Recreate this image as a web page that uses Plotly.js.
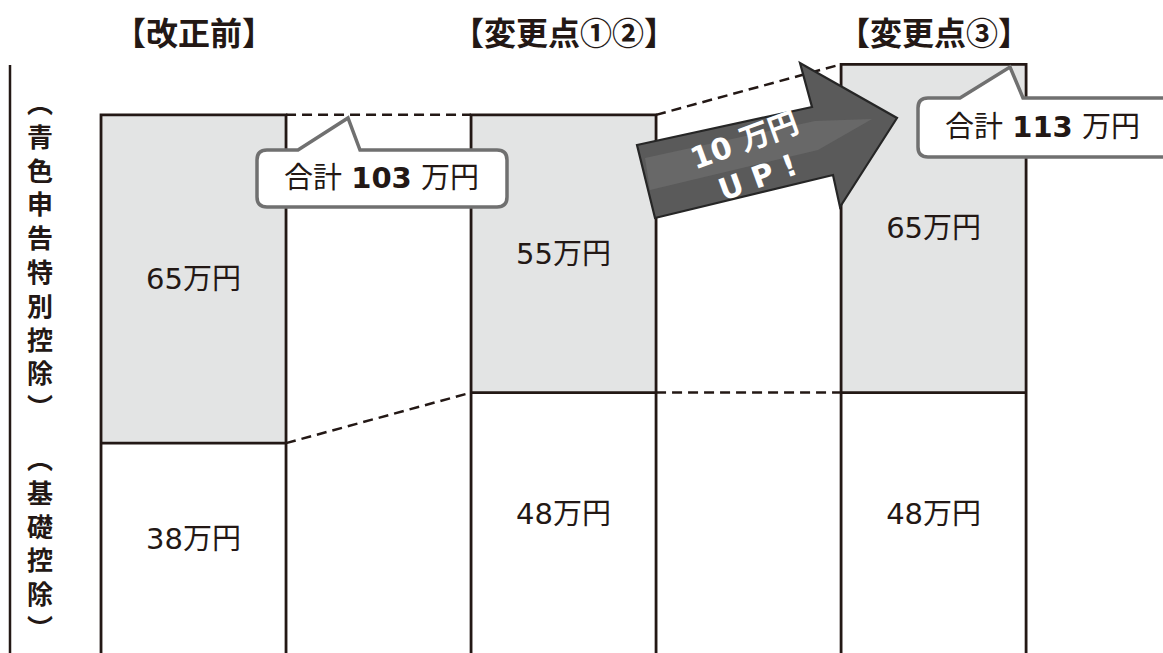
<!DOCTYPE html>
<html>
<head>
<meta charset="utf-8">
<script src="https://cdn.plot.ly/plotly-3.0.1.min.js"></script>
<style>
html,body{margin:0;padding:0;background:#fff;overflow:hidden;}
#chart{width:1163px;height:653px;}
</style>
</head>
<body>
<div id="chart"></div>
<script>
// ---- data ----
const categories = ['【改正前】', '【変更点①②】', '【変更点③】'];
const basicDeduction = [38, 48, 48];        // 基礎控除（万円）
const blueReturnDeduction = [65, 55, 65];   // 青色申告特別控除（万円）
const unit = '万円';
const seriesNames = ['（基礎控除）', '（青色申告特別控除）'];

// ---- derived ----
const totals = basicDeduction.map((v, i) => v + blueReturnDeduction[i]);
const xs = categories.map((_, i) => i);
const increase = totals[2] - totals[1];

// ---- layout helpers ----
const W = 1163, H = 653;
const px = x => x / W;
const py = y => 1 - y / H;
const INK = '#231815';
const BARGAP = 0.5;
const HALF = (1 - BARGAP) / 2;
const Y_RANGE = [-3.56, 125.74];
const Y_LOW = Y_RANGE[0] - 2;
const LABEL_FONT = 'DejaVu Sans, Noto Sans CJK JP, sans-serif';
const CJK_FONT = 'Noto Sans CJK JP, sans-serif';

const traces = [];
traces.push({
  type: 'bar', x: xs, y: basicDeduction, name: seriesNames[0],
  marker: {color: '#ffffff', line: {width: 0}},
  text: basicDeduction.map(v => v + unit), textposition: 'inside', insidetextanchor: 'middle',
  textangle: 0, constraintext: 'none',
  textfont: {family: LABEL_FONT, size: 29, color: INK}, hoverinfo: 'skip'
});
traces.push({
  type: 'bar', x: xs, y: blueReturnDeduction, name: seriesNames[1],
  marker: {color: '#e3e4e4', line: {width: 0}},
  text: blueReturnDeduction.map(v => v + unit), textposition: 'inside', insidetextanchor: 'middle',
  textangle: 0, constraintext: 'none',
  textfont: {family: LABEL_FONT, size: 29, color: INK}, hoverinfo: 'skip'
});

// outlines of each column (solid)
xs.forEach((x, i) => {
  traces.push({
    type: 'scatter', mode: 'lines', hoverinfo: 'skip',
    x: [x - HALF, x - HALF, x + HALF, x + HALF, null, x - HALF, x + HALF],
    y: [Y_LOW, totals[i], totals[i], Y_LOW, null, basicDeduction[i], basicDeduction[i]],
    line: {color: INK, width: 2.8}
  });
});
// dashed connectors between columns
for (let i = 0; i < xs.length - 1; i++) {
  traces.push({
    type: 'scatter', mode: 'lines', hoverinfo: 'skip',
    x: [xs[i] + HALF, xs[i + 1] - HALF, null, xs[i] + HALF, xs[i + 1] - HALF],
    y: [totals[i], totals[i + 1], null, basicDeduction[i], basicDeduction[i + 1]],
    line: {color: INK, width: 2.5, dash: '10px,6px'}
  });
}

function bubble(x0, y0, x1, y1, r, t0, tipX, tipY, t1) {
  const P = (x, y) => px(x) + ',' + py(y);
  return 'M' + P(x0 + r, y0) + ' L' + P(t0, y0) + ' L' + P(tipX, tipY) + ' L' + P(t1, y0) +
    ' L' + P(x1 - r, y0) + ' Q' + P(x1, y0) + ' ' + P(x1, y0 + r) +
    ' L' + P(x1, y1 - r) + ' Q' + P(x1, y1) + ' ' + P(x1 - r, y1) +
    ' L' + P(x0 + r, y1) + ' Q' + P(x0, y1) + ' ' + P(x0, y1 - r) +
    ' L' + P(x0, y0 + r) + ' Q' + P(x0, y0) + ' ' + P(x0 + r, y0) + ' Z';
}
function poly(pts) {
  return 'M' + pts.map(p => px(p[0]) + ',' + py(p[1])).join(' L') + ' Z';
}

const shapes = [
  {type: 'line', xref: 'paper', yref: 'paper', x0: px(10), x1: px(10), y0: py(65), y1: py(660),
   line: {color: INK, width: 2.5}},
  {type: 'path', xref: 'paper', yref: 'paper', path: bubble(257, 150, 507, 207, 10, 298, 348, 118, 360),
   fillcolor: '#ffffff', line: {color: '#707070', width: 3.5}},
  {type: 'path', xref: 'paper', yref: 'paper', path: bubble(918, 98, 1185, 157, 10, 960, 1010, 67, 1023),
   fillcolor: '#ffffff', line: {color: '#707070', width: 3.5}},
  {type: 'path', xref: 'paper', yref: 'paper',
   path: poly([[637, 145], [812, 107], [800, 63], [897, 118], [840, 207], [833, 175], [655, 218]]),
   fillcolor: '#5a5a5a', line: {color: '#262626', width: 2.2}},
  {type: 'path', xref: 'paper', yref: 'paper',
   path: poly([[645, 158], [815, 121], [872, 119], [818, 150], [650, 190]]),
   fillcolor: '#7c7c7c', opacity: 0.4, line: {width: 0}}
];

const annotations = [];
categories.forEach((c, i) => {
  annotations.push({xref: 'x', yref: 'paper', x: i, y: py(31), text: '<b>' + c + '</b>', showarrow: false,
    font: {family: CJK_FONT, size: 32, color: INK}, xanchor: 'center', yanchor: 'middle'});
});
function vertical(s) {
  return '<b>' + s.replace('（', '︵').replace('）', '︶').split('').join('<br>') + '</b>';
}
annotations.push({xref: 'paper', yref: 'paper', x: px(40), y: py(253), text: vertical(seriesNames[1]),
  showarrow: false, font: {family: CJK_FONT, size: 26, color: INK}, xanchor: 'center', yanchor: 'middle'});
annotations.push({xref: 'paper', yref: 'paper', x: px(40), y: py(542), text: vertical(seriesNames[0]),
  showarrow: false, font: {family: CJK_FONT, size: 26, color: INK}, xanchor: 'center', yanchor: 'middle'});

annotations.push({xref: 'paper', yref: 'paper', x: px(381), y: py(178),
  text: '合計 <b>' + totals[0] + '</b> ' + unit, showarrow: false,
  font: {family: LABEL_FONT, size: 29, color: INK}, xanchor: 'center', yanchor: 'middle'});
annotations.push({xref: 'paper', yref: 'paper', x: px(1042), y: py(127),
  text: '合計 <b>' + totals[2] + '</b> ' + unit, showarrow: false,
  font: {family: LABEL_FONT, size: 29, color: INK}, xanchor: 'center', yanchor: 'middle'});
annotations.push({xref: 'paper', yref: 'paper', x: px(751), y: py(159),
  text: '<b>' + increase + ' ' + unit + '<br>U P !</b>', showarrow: false, textangle: -20,
  font: {family: LABEL_FONT, size: 30, color: '#ffffff'}, xanchor: 'center', yanchor: 'middle'});

const layout = {
  width: W, height: H,
  margin: {l: 0, r: 0, t: 0, b: 0},
  paper_bgcolor: '#ffffff', plot_bgcolor: '#ffffff',
  showlegend: false,
  barmode: 'stack', bargap: BARGAP,
  xaxis: {range: [-0.523, 2.620], visible: false, fixedrange: true},
  yaxis: {range: Y_RANGE, visible: false, fixedrange: true},
  shapes: shapes,
  annotations: annotations
};

Plotly.newPlot('chart', traces, layout, {staticPlot: true, displayModeBar: false});
</script>
</body>
</html>
